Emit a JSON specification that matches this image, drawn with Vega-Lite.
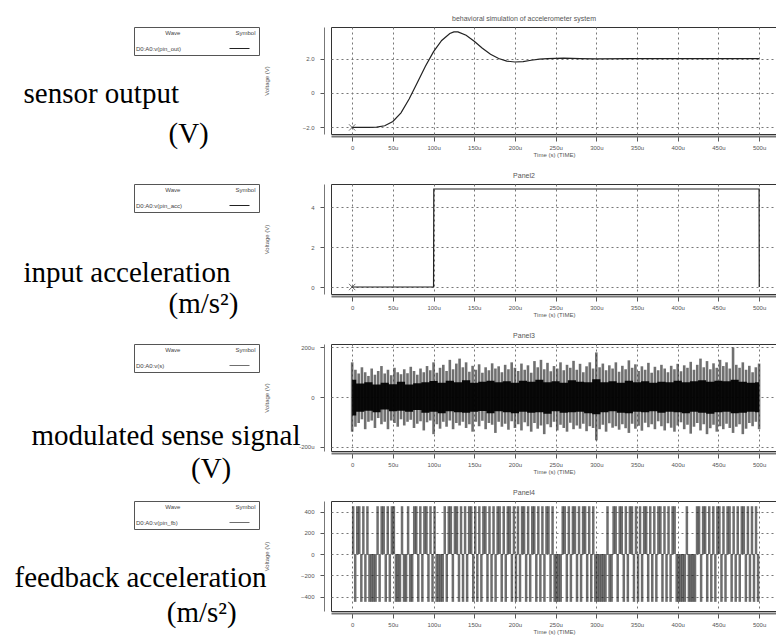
{
"$schema": "https://vega.github.io/schema/vega-lite/v6.json",
"padding": {"left": 13, "top": 14, "right": 0, "bottom": 0},
"background": "#ffffff",
"bounds": "flush",
"spacing": 50,
"resolve": {"scale": {"color": "independent"}, "legend": {"color": "independent"}},
"config": {
  "font": "Liberation Sans",
  "view": {"stroke": "#333", "strokeWidth": 1},
  "axis": {"labelFontSize": 6, "labelColor": "#555", "titleFontSize": 6, "titleColor": "#555", "titleFontWeight": "normal", "gridColor": "#777", "gridDash": [2, 3], "gridOpacity": 1, "tickColor": "#555", "domainColor": "#777"},
  "title": {"fontSize": 7, "fontWeight": "normal", "color": "#555", "offset": 5},
  "legend": {"orient": "none", "legendX": -197, "legendY": 0, "strokeColor": "#555", "fillColor": "#ffffff", "padding": 3, "titleFontSize": 6, "titleFontWeight": "normal", "titleColor": "#444", "labelFontSize": 6, "labelColor": "#444", "symbolType": "stroke", "symbolStrokeWidth": 1, "symbolSize": 400, "titlePadding": 2, "symbolOffset": 92, "labelOffset": -114}
},
"vconcat": [
{
  "width": 446, "height": 107,
  "title": {"text": "behavioral simulation of accelerometer system", "dx": -30},
  "layer": [
    {
      "data": {"values": [
        {"t":0,"v":-2.0},{"t":10,"v":-2.0},{"t":20,"v":-2.0},{"t":30,"v":-1.98},{"t":40,"v":-1.9},{"t":50,"v":-1.65},{"t":60,"v":-1.15},{"t":70,"v":-0.35},{"t":80,"v":0.6},{"t":90,"v":1.55},{"t":100,"v":2.4},{"t":110,"v":3.05},{"t":120,"v":3.45},{"t":125,"v":3.55},{"t":130,"v":3.55},{"t":140,"v":3.35},{"t":150,"v":3.0},{"t":160,"v":2.6},{"t":170,"v":2.25},{"t":180,"v":2.0},{"t":190,"v":1.85},{"t":200,"v":1.8},{"t":210,"v":1.82},{"t":220,"v":1.9},{"t":230,"v":1.97},{"t":240,"v":2.0},{"t":260,"v":2.02},{"t":280,"v":2.0},{"t":300,"v":1.98},{"t":340,"v":2.0},{"t":400,"v":2.0},{"t":450,"v":2.0},{"t":500,"v":2.0}
      ]},
      "resolve": {"scale": {"y": "independent"}, "axis": {"y": "independent"}},
      "layer": [
        {
          "mark": {"type": "line", "strokeWidth": 1.2},
          "encoding": {
            "x": {"field": "t", "type": "quantitative", "scale": {"domain": [-26, 522], "nice": false, "zero": false},
                  "axis": {"values": [0,50,100,150,200,250,300,350,400,450,500], "labelExpr": "datum.value == 0 ? '0' : datum.value + 'u'", "title": "Time (s) (TIME)", "offset": 2, "tickSize": 5, "domainWidth": 2, "labelPadding": 3, "titlePadding": 1}},
            "y": {"field": "v", "type": "quantitative", "scale": {"domain": [-2.38, 3.83], "nice": false, "zero": false},
                  "axis": {"values": [-2, 0, 2], "labelExpr": "datum.value == 0 ? '0' : format(datum.value, '.1f')", "offset": 7, "tickSize": 4, "labelPadding": 6,
                           "title": ["sensor output", "\u200b\u00a0\u00a0\u00a0\u00a0\u00a0\u00a0\u00a0\u00a0\u00a0\u00a0\u00a0\u00a0\u00a0\u00a0\u00a0\u00a0\u00a0\u00a0\u00a0\u00a0(V)"],
                           "titleAngle": 0, "titleAlign": "left", "titleBaseline": "alphabetic", "titleX": -301, "titleY": 75, "titleFont": "Liberation Serif", "titleFontSize": 29, "titleColor": "#000", "titleLineHeight": 40}},
            "color": {"datum": "D0:A0:v(pin_out)", "scale": {"range": ["#222"]},
                      "legend": {"title": "\u200b\u00a0\u00a0\u00a0\u00a0\u00a0\u00a0\u00a0\u00a0\u00a0\u00a0\u00a0\u00a0\u00a0\u00a0\u00a0\u00a0\u00a0Wave\u00a0\u00a0\u00a0\u00a0\u00a0\u00a0\u00a0\u00a0\u00a0\u00a0\u00a0\u00a0\u00a0\u00a0\u00a0\u00a0\u00a0\u00a0\u00a0\u00a0\u00a0\u00a0\u00a0\u00a0\u00a0\u00a0\u00a0\u00a0\u00a0\u00a0\u00a0\u00a0\u00a0Symbol"}}
          }
        },
        {
          "transform": [{"filter": "datum.t == 0"}],
          "mark": {"type": "point", "shape": "M-1,-1L1,1M-1,1L1,-1", "filled": false, "size": 40, "color": "#333", "strokeWidth": 1},
          "encoding": {"x": {"field": "t", "type": "quantitative"},
                       "y": {"field": "v", "type": "quantitative", "scale": {"domain": [-2.38, 3.83], "nice": false, "zero": false},
                             "axis": {"orient": "left", "domain": false, "ticks": false, "labels": false, "grid": false, "title": "Voltage (V)", "titleX": -62, "titleY": 53.5}}}
        }
      ]
    }
  ]
},
{
  "width": 446, "height": 110,
  "title": {"text": "Panel2", "dx": -30},
  "layer": [
    {
      "data": {"values": [
        {"t":0,"v":0},{"t":100,"v":0},{"t":100.3,"v":4.9},{"t":500,"v":4.9},{"t":500.2,"v":0}
      ]},
      "resolve": {"scale": {"y": "independent"}, "axis": {"y": "independent"}},
      "layer": [
        {
          "mark": {"type": "line", "strokeWidth": 1.2},
          "encoding": {
            "x": {"field": "t", "type": "quantitative", "scale": {"domain": [-26, 522], "nice": false, "zero": false},
                  "axis": {"values": [0,50,100,150,200,250,300,350,400,450,500], "labelExpr": "datum.value == 0 ? '0' : datum.value + 'u'", "title": "Time (s) (TIME)", "offset": 2, "tickSize": 5, "domainWidth": 2, "labelPadding": 3, "titlePadding": 1}},
            "y": {"field": "v", "type": "quantitative", "scale": {"domain": [-0.35, 5.15], "nice": false, "zero": false},
                  "axis": {"values": [0, 2, 4], "offset": 7, "tickSize": 4, "labelPadding": 6,
                           "title": ["input acceleration", "\u200b\u00a0\u00a0\u00a0\u00a0\u00a0\u00a0\u00a0\u00a0\u00a0\u00a0\u00a0\u00a0\u00a0\u00a0\u00a0\u00a0\u00a0\u00a0\u00a0\u00a0(m/s\u00b2)"],
                           "titleAngle": 0, "titleAlign": "left", "titleBaseline": "alphabetic", "titleX": -301, "titleY": 97, "titleFont": "Liberation Serif", "titleFontSize": 29, "titleColor": "#000", "titleLineHeight": 31}},
            "color": {"datum": "D0:A0:v(pin_acc)", "scale": {"range": ["#222"]},
                      "legend": {"title": "\u200b\u00a0\u00a0\u00a0\u00a0\u00a0\u00a0\u00a0\u00a0\u00a0\u00a0\u00a0\u00a0\u00a0\u00a0\u00a0\u00a0\u00a0Wave\u00a0\u00a0\u00a0\u00a0\u00a0\u00a0\u00a0\u00a0\u00a0\u00a0\u00a0\u00a0\u00a0\u00a0\u00a0\u00a0\u00a0\u00a0\u00a0\u00a0\u00a0\u00a0\u00a0\u00a0\u00a0\u00a0\u00a0\u00a0\u00a0\u00a0\u00a0\u00a0\u00a0Symbol"}}
          }
        },
        {
          "transform": [{"filter": "datum.t == 0"}],
          "mark": {"type": "point", "shape": "M-1,-1L1,1M-1,1L1,-1", "filled": false, "size": 40, "color": "#333", "strokeWidth": 1},
          "encoding": {"x": {"field": "t", "type": "quantitative"},
                       "y": {"field": "v", "type": "quantitative", "scale": {"domain": [-0.35, 5.15], "nice": false, "zero": false},
                             "axis": {"orient": "left", "domain": false, "ticks": false, "labels": false, "grid": false, "title": "Voltage (V)", "titleX": -62, "titleY": 55}}}
        }
      ]
    }
  ]
},
{
  "width": 446, "height": 107,
  "title": {"text": "Panel3", "dx": -30},
  "resolve": {"scale": {"y": "independent"}, "axis": {"y": "independent"}},
  "layer": [
    {
      "data": {"values": [
        {"t":0,"hi":140,"lo":-140},{"t":4,"hi":110,"lo":-120},{"t":8,"hi":95,"lo":-105},{"t":12,"hi":120,"lo":-90},{"t":16,"hi":100,"lo":-130},{"t":20,"hi":85,"lo":-100},{"t":24,"hi":115,"lo":-95},{"t":28,"hi":90,"lo":-125},{"t":32,"hi":105,"lo":-85},{"t":36,"hi":125,"lo":-110},
        {"t":40,"hi":95,"lo":-100},{"t":44,"hi":110,"lo":-130},{"t":48,"hi":88,"lo":-95},{"t":52,"hi":118,"lo":-105},{"t":56,"hi":100,"lo":-120},{"t":60,"hi":92,"lo":-90},{"t":64,"hi":112,"lo":-115},{"t":68,"hi":96,"lo":-100},{"t":72,"hi":122,"lo":-92},{"t":76,"hi":105,"lo":-125},
        {"t":80,"hi":90,"lo":-108},{"t":84,"hi":115,"lo":-98},{"t":88,"hi":100,"lo":-135},{"t":92,"hi":125,"lo":-102},{"t":96,"hi":108,"lo":-95},{"t":100,"hi":140,"lo":-150},{"t":104,"hi":98,"lo":-110},{"t":108,"hi":118,"lo":-128},{"t":112,"hi":130,"lo":-100},{"t":116,"hi":105,"lo":-120},
        {"t":120,"hi":150,"lo":-95},{"t":124,"hi":112,"lo":-130},{"t":128,"hi":135,"lo":-105},{"t":132,"hi":155,"lo":-115},{"t":136,"hi":120,"lo":-100},{"t":140,"hi":140,"lo":-125},{"t":144,"hi":102,"lo":-110},{"t":148,"hi":126,"lo":-140},{"t":152,"hi":110,"lo":-100},{"t":156,"hi":132,"lo":-118},
        {"t":160,"hi":98,"lo":-96},{"t":164,"hi":120,"lo":-130},{"t":168,"hi":108,"lo":-105},{"t":172,"hi":136,"lo":-112},{"t":176,"hi":115,"lo":-145},{"t":180,"hi":124,"lo":-100},{"t":184,"hi":100,"lo":-120},{"t":188,"hi":130,"lo":-108},{"t":192,"hi":112,"lo":-132},{"t":196,"hi":140,"lo":-98},
        {"t":200,"hi":118,"lo":-125},{"t":204,"hi":105,"lo":-110},{"t":208,"hi":135,"lo":-135},{"t":212,"hi":110,"lo":-102},{"t":216,"hi":128,"lo":-118},{"t":220,"hi":98,"lo":-140},{"t":224,"hi":145,"lo":-105},{"t":228,"hi":120,"lo":-128},{"t":232,"hi":150,"lo":-115},{"t":236,"hi":112,"lo":-150},
        {"t":240,"hi":138,"lo":-110},{"t":244,"hi":104,"lo":-122},{"t":248,"hi":125,"lo":-100},{"t":252,"hi":115,"lo":-135},{"t":256,"hi":140,"lo":-112},{"t":260,"hi":108,"lo":-125},{"t":264,"hi":130,"lo":-140},{"t":268,"hi":118,"lo":-104},{"t":272,"hi":146,"lo":-130},{"t":276,"hi":110,"lo":-115},
        {"t":280,"hi":134,"lo":-128},{"t":284,"hi":100,"lo":-108},{"t":288,"hi":124,"lo":-138},{"t":292,"hi":140,"lo":-118},{"t":296,"hi":115,"lo":-125},{"t":300,"hi":180,"lo":-175},{"t":304,"hi":120,"lo":-130},{"t":308,"hi":135,"lo":-112},{"t":312,"hi":108,"lo":-140},{"t":316,"hi":128,"lo":-106},
        {"t":320,"hi":115,"lo":-124},{"t":324,"hi":140,"lo":-118},{"t":328,"hi":102,"lo":-132},{"t":332,"hi":126,"lo":-110},{"t":336,"hi":112,"lo":-126},{"t":340,"hi":148,"lo":-145},{"t":344,"hi":118,"lo":-108},{"t":348,"hi":132,"lo":-128},{"t":352,"hi":105,"lo":-116},{"t":356,"hi":124,"lo":-136},
        {"t":360,"hi":110,"lo":-104},{"t":364,"hi":138,"lo":-122},{"t":368,"hi":98,"lo":-110},{"t":372,"hi":122,"lo":-130},{"t":376,"hi":108,"lo":-98},{"t":380,"hi":130,"lo":-118},{"t":384,"hi":115,"lo":-135},{"t":388,"hi":100,"lo":-106},{"t":392,"hi":126,"lo":-124},{"t":396,"hi":112,"lo":-140},
        {"t":400,"hi":134,"lo":-115},{"t":404,"hi":104,"lo":-102},{"t":408,"hi":128,"lo":-130},{"t":412,"hi":118,"lo":-112},{"t":416,"hi":142,"lo":-148},{"t":420,"hi":110,"lo":-120},{"t":424,"hi":130,"lo":-105},{"t":428,"hi":155,"lo":-135},{"t":432,"hi":120,"lo":-110},{"t":436,"hi":145,"lo":-150},
        {"t":440,"hi":112,"lo":-126},{"t":444,"hi":136,"lo":-112},{"t":448,"hi":118,"lo":-140},{"t":452,"hi":150,"lo":-118},{"t":456,"hi":125,"lo":-130},{"t":460,"hi":140,"lo":-108},{"t":464,"hi":115,"lo":-125},{"t":468,"hi":200,"lo":-145},{"t":472,"hi":130,"lo":-120},{"t":476,"hi":118,"lo":-110},
        {"t":480,"hi":140,"lo":-150},{"t":484,"hi":110,"lo":-128},{"t":488,"hi":126,"lo":-105},{"t":492,"hi":100,"lo":-118},{"t":496,"hi":120,"lo":-100},{"t":500,"hi":135,"lo":-130}
      ]},
      "mark": {"type": "rule", "strokeWidth": 2.6, "opacity": 0.7},
      "encoding": {
        "x": {"field": "t", "type": "quantitative", "scale": {"domain": [-26, 522], "nice": false, "zero": false},
              "axis": {"values": [0,50,100,150,200,250,300,350,400,450,500], "labelExpr": "datum.value == 0 ? '0' : datum.value + 'u'", "title": "Time (s) (TIME)", "offset": 2, "tickSize": 5, "domainWidth": 2, "labelPadding": 3, "titlePadding": 1}},
        "y": {"field": "lo", "type": "quantitative", "scale": {"domain": [-218, 214], "nice": false, "zero": false},
              "axis": {"values": [-200, 0, 200], "labelExpr": "datum.value == 0 ? '0' : datum.value + 'u'", "offset": 7, "tickSize": 4, "labelPadding": 6,
                       "title": ["modulated sense signal", "\u200b\u00a0\u00a0\u00a0\u00a0\u00a0\u00a0\u00a0\u00a0\u00a0\u00a0\u00a0\u00a0\u00a0\u00a0\u00a0\u00a0\u00a0\u00a0\u00a0\u00a0\u00a0\u00a0(V)"],
                       "titleAngle": 0, "titleAlign": "left", "titleBaseline": "alphabetic", "titleX": -293, "titleY": 100, "titleFont": "Liberation Serif", "titleFontSize": 29, "titleColor": "#000", "titleLineHeight": 33}},
        "y2": {"field": "hi"},
        "color": {"datum": "D0:A0:v(s)", "scale": {"range": ["#333"]},
                  "legend": {"title": "\u200b\u00a0\u00a0\u00a0\u00a0\u00a0\u00a0\u00a0\u00a0\u00a0\u00a0\u00a0\u00a0\u00a0\u00a0\u00a0\u00a0\u00a0Wave\u00a0\u00a0\u00a0\u00a0\u00a0\u00a0\u00a0\u00a0\u00a0\u00a0\u00a0\u00a0\u00a0\u00a0\u00a0\u00a0\u00a0\u00a0\u00a0\u00a0\u00a0\u00a0\u00a0\u00a0\u00a0\u00a0\u00a0\u00a0\u00a0\u00a0\u00a0\u00a0\u00a0Symbol"}}
      }
    },
    {
      "data": {"values": [
        {"t":0,"a":70,"b":-75},{"t":10,"a":55,"b":-60},{"t":20,"a":60,"b":-55},{"t":30,"a":50,"b":-62},{"t":40,"a":58,"b":-50},{"t":50,"a":52,"b":-58},{"t":60,"a":62,"b":-55},{"t":70,"a":50,"b":-60},{"t":80,"a":56,"b":-52},{"t":90,"a":60,"b":-64},
        {"t":100,"a":65,"b":-60},{"t":110,"a":58,"b":-66},{"t":120,"a":66,"b":-58},{"t":130,"a":60,"b":-62},{"t":140,"a":68,"b":-64},{"t":150,"a":58,"b":-60},{"t":160,"a":62,"b":-56},{"t":170,"a":66,"b":-66},{"t":180,"a":60,"b":-58},{"t":190,"a":64,"b":-62},
        {"t":200,"a":58,"b":-66},{"t":210,"a":66,"b":-60},{"t":220,"a":62,"b":-64},{"t":230,"a":70,"b":-62},{"t":240,"a":60,"b":-68},{"t":250,"a":64,"b":-58},{"t":260,"a":58,"b":-64},{"t":270,"a":68,"b":-62},{"t":280,"a":62,"b":-60},{"t":290,"a":60,"b":-66},
        {"t":300,"a":72,"b":-70},{"t":310,"a":60,"b":-62},{"t":320,"a":64,"b":-58},{"t":330,"a":58,"b":-64},{"t":340,"a":66,"b":-66},{"t":350,"a":60,"b":-60},{"t":360,"a":64,"b":-62},{"t":370,"a":58,"b":-58},{"t":380,"a":62,"b":-64},{"t":390,"a":60,"b":-60},
        {"t":400,"a":66,"b":-62},{"t":410,"a":60,"b":-66},{"t":420,"a":64,"b":-60},{"t":430,"a":68,"b":-64},{"t":440,"a":62,"b":-68},{"t":450,"a":66,"b":-62},{"t":460,"a":64,"b":-60},{"t":470,"a":70,"b":-66},{"t":480,"a":62,"b":-64},{"t":490,"a":58,"b":-60},{"t":500,"a":60,"b":-62}
      ]},
      "mark": {"type": "area", "color": "#000", "opacity": 0.95, "interpolate": "step"},
      "encoding": {
        "x": {"field": "t", "type": "quantitative"},
        "y": {"field": "b", "type": "quantitative", "scale": {"domain": [-218, 214], "nice": false, "zero": false},
              "axis": {"orient": "left", "domain": false, "ticks": false, "labels": false, "grid": false, "title": "Voltage (V)", "titleX": -62, "titleY": 53.5}},
        "y2": {"field": "a"}
      }
    }
  ]
},
{
  "width": 446, "height": 110,
  "title": {"text": "Panel4", "dx": -30},
  "resolve": {"scale": {"y": "independent"}, "axis": {"y": "independent"}},
  "layer": [
    {
      "data": {"values": [
        {"t":1.25,"v":450},{"t":3.75,"v":-450},{"t":6.25,"v":450},{"t":8.75,"v":450},{"t":11.25,"v":-450},{"t":13.75,"v":450},{"t":16.25,"v":-450},{"t":18.75,"v":450},{"t":21.25,"v":-450},{"t":23.75,"v":-450},
        {"t":26.25,"v":-450},{"t":28.75,"v":-450},{"t":31.25,"v":450},{"t":33.75,"v":-450},{"t":36.25,"v":450},{"t":38.75,"v":450},{"t":41.25,"v":-450},{"t":43.75,"v":450},{"t":46.25,"v":-450},{"t":48.75,"v":450},
        {"t":51.25,"v":450},{"t":53.75,"v":-450},{"t":56.25,"v":-450},{"t":58.75,"v":-450},{"t":61.25,"v":450},{"t":63.75,"v":-450},{"t":66.25,"v":-450},{"t":68.75,"v":450},{"t":71.25,"v":-450},{"t":73.75,"v":-450},
        {"t":76.25,"v":450},{"t":78.75,"v":450},{"t":81.25,"v":-450},{"t":83.75,"v":450},{"t":86.25,"v":-450},{"t":88.75,"v":450},{"t":91.25,"v":450},{"t":93.75,"v":-450},{"t":96.25,"v":450},{"t":98.75,"v":-450},
        {"t":101.25,"v":450},{"t":103.75,"v":-450},{"t":106.25,"v":-450},{"t":108.75,"v":-450},{"t":111.25,"v":-450},{"t":113.75,"v":450},{"t":116.25,"v":-450},{"t":118.75,"v":450},{"t":121.25,"v":450},{"t":123.75,"v":-450},
        {"t":126.25,"v":450},{"t":128.75,"v":450},{"t":131.25,"v":-450},{"t":133.75,"v":450},{"t":136.25,"v":-450},{"t":138.75,"v":450},{"t":141.25,"v":-450},{"t":143.75,"v":450},{"t":146.25,"v":450},{"t":148.75,"v":-450},
        {"t":151.25,"v":450},{"t":153.75,"v":-450},{"t":156.25,"v":450},{"t":158.75,"v":-450},{"t":161.25,"v":450},{"t":163.75,"v":450},{"t":166.25,"v":-450},{"t":168.75,"v":450},{"t":171.25,"v":-450},{"t":173.75,"v":450},
        {"t":176.25,"v":-450},{"t":178.75,"v":450},{"t":181.25,"v":450},{"t":183.75,"v":-450},{"t":186.25,"v":450},{"t":188.75,"v":-450},{"t":191.25,"v":450},{"t":193.75,"v":450},{"t":196.25,"v":-450},{"t":198.75,"v":450},
        {"t":201.25,"v":-450},{"t":203.75,"v":450},{"t":206.25,"v":-450},{"t":208.75,"v":450},{"t":211.25,"v":450},{"t":213.75,"v":-450},{"t":216.25,"v":450},{"t":218.75,"v":-450},{"t":221.25,"v":450},{"t":223.75,"v":450},
        {"t":226.25,"v":-450},{"t":228.75,"v":450},{"t":231.25,"v":-450},{"t":233.75,"v":450},{"t":236.25,"v":-450},{"t":238.75,"v":450},{"t":241.25,"v":450},{"t":243.75,"v":-450},{"t":246.25,"v":450},{"t":248.75,"v":-450},
        {"t":251.25,"v":-450},{"t":253.75,"v":-450},{"t":256.25,"v":-450},{"t":258.75,"v":450},{"t":261.25,"v":450},{"t":263.75,"v":-450},{"t":266.25,"v":450},{"t":268.75,"v":-450},{"t":271.25,"v":450},{"t":273.75,"v":450},
        {"t":276.25,"v":-450},{"t":278.75,"v":450},{"t":281.25,"v":-450},{"t":283.75,"v":450},{"t":286.25,"v":450},{"t":288.75,"v":-450},{"t":291.25,"v":450},{"t":293.75,"v":-450},{"t":296.25,"v":450},{"t":298.75,"v":-450},
        {"t":301.25,"v":-450},{"t":303.75,"v":-450},{"t":306.25,"v":-450},{"t":308.75,"v":-450},{"t":311.25,"v":-450},{"t":313.75,"v":450},{"t":316.25,"v":-450},{"t":318.75,"v":-450},{"t":321.25,"v":450},{"t":323.75,"v":450},
        {"t":326.25,"v":-450},{"t":328.75,"v":450},{"t":331.25,"v":450},{"t":333.75,"v":-450},{"t":336.25,"v":450},{"t":338.75,"v":-450},{"t":341.25,"v":450},{"t":343.75,"v":450},{"t":346.25,"v":-450},{"t":348.75,"v":450},
        {"t":351.25,"v":-450},{"t":353.75,"v":450},{"t":356.25,"v":-450},{"t":358.75,"v":450},{"t":361.25,"v":450},{"t":363.75,"v":-450},{"t":366.25,"v":450},{"t":368.75,"v":-450},{"t":371.25,"v":450},{"t":373.75,"v":-450},
        {"t":376.25,"v":450},{"t":378.75,"v":450},{"t":381.25,"v":-450},{"t":383.75,"v":450},{"t":386.25,"v":-450},{"t":388.75,"v":450},{"t":391.25,"v":-450},{"t":393.75,"v":450},{"t":396.25,"v":450},{"t":398.75,"v":-450},
        {"t":401.25,"v":-450},{"t":403.75,"v":-450},{"t":406.25,"v":-450},{"t":408.75,"v":-450},{"t":411.25,"v":450},{"t":413.75,"v":-450},{"t":416.25,"v":-450},{"t":418.75,"v":-450},{"t":421.25,"v":-450},{"t":423.75,"v":450},
        {"t":426.25,"v":450},{"t":428.75,"v":-450},{"t":431.25,"v":450},{"t":433.75,"v":450},{"t":436.25,"v":-450},{"t":438.75,"v":450},{"t":441.25,"v":-450},{"t":443.75,"v":450},{"t":446.25,"v":-450},{"t":448.75,"v":450},
        {"t":451.25,"v":450},{"t":453.75,"v":-450},{"t":456.25,"v":450},{"t":458.75,"v":-450},{"t":461.25,"v":450},{"t":463.75,"v":450},{"t":466.25,"v":-450},{"t":468.75,"v":450},{"t":471.25,"v":-450},{"t":473.75,"v":450},
        {"t":476.25,"v":-450},{"t":478.75,"v":450},{"t":481.25,"v":450},{"t":483.75,"v":-450},{"t":486.25,"v":450},{"t":488.75,"v":-450},{"t":491.25,"v":450},{"t":493.75,"v":-450},{"t":496.25,"v":450},{"t":498.75,"v":-450}
      ]},
      "mark": {"type": "rule", "strokeWidth": 2.5, "opacity": 0.65},
      "encoding": {
        "x": {"field": "t", "type": "quantitative", "scale": {"domain": [-26, 522], "nice": false, "zero": false},
              "axis": {"values": [0,50,100,150,200,250,300,350,400,450,500], "labelExpr": "datum.value == 0 ? '0' : datum.value + 'u'", "title": "Time (s) (TIME)", "offset": 2, "tickSize": 5, "domainWidth": 2, "labelPadding": 3, "titlePadding": 1}},
        "y": {"field": "v", "type": "quantitative", "scale": {"domain": [-536, 499], "nice": false, "zero": false},
              "axis": {"values": [-400, -200, 0, 200, 400], "offset": 7, "tickSize": 4, "labelPadding": 6,
                       "title": ["feedback acceleration", "\u200b\u00a0\u00a0\u00a0\u00a0\u00a0\u00a0\u00a0\u00a0\u00a0\u00a0\u00a0\u00a0\u00a0\u00a0\u00a0\u00a0\u00a0\u00a0\u00a0\u00a0\u00a0(m/s\u00b2)"],
                       "titleAngle": 0, "titleAlign": "left", "titleBaseline": "alphabetic", "titleX": -310, "titleY": 85, "titleFont": "Liberation Serif", "titleFontSize": 29, "titleColor": "#000", "titleLineHeight": 35}},
        "y2": {"datum": 0},
        "color": {"datum": "D0:A0:v(pin_fb)", "scale": {"range": ["#222"]},
                  "legend": {"title": "\u200b\u00a0\u00a0\u00a0\u00a0\u00a0\u00a0\u00a0\u00a0\u00a0\u00a0\u00a0\u00a0\u00a0\u00a0\u00a0\u00a0\u00a0Wave\u00a0\u00a0\u00a0\u00a0\u00a0\u00a0\u00a0\u00a0\u00a0\u00a0\u00a0\u00a0\u00a0\u00a0\u00a0\u00a0\u00a0\u00a0\u00a0\u00a0\u00a0\u00a0\u00a0\u00a0\u00a0\u00a0\u00a0\u00a0\u00a0\u00a0\u00a0\u00a0\u00a0Symbol"}}
      }
    },
    {
      "mark": {"type": "rule", "color": "#000", "strokeWidth": 4},
      "encoding": {"x": {"datum": 0}, "x2": {"datum": 500},
                   "y": {"datum": -35, "scale": {"domain": [-536, 499], "nice": false, "zero": false},
                         "axis": {"orient": "left", "domain": false, "ticks": false, "labels": false, "grid": false, "title": "Voltage (V)", "titleX": -62, "titleY": 55}}}
    }
  ]
}
]
}
